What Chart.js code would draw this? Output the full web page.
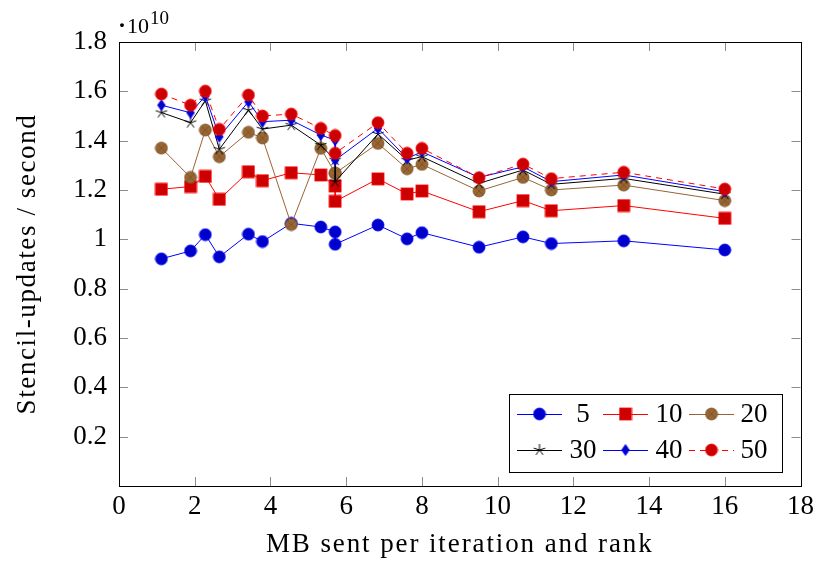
<!DOCTYPE html>
<html>
<head>
<meta charset="utf-8">
<script src="https://cdn.jsdelivr.net/npm/chart.js@4"></script>
<style>
  html, body { margin: 0; padding: 0; background: #fff; }
  #wrap { width: 819px; height: 562px; }
</style>
</head>
<body>
<div id="wrap"><canvas id="myChart" width="819" height="562"></canvas></div>
<script>
// MB sent per iteration and rank (two runs share 5.71)
const mbSent = [1.12, 1.89, 2.28, 2.65, 3.42, 3.79, 4.55, 5.33, 5.71, 5.71, 6.84, 7.61, 8.0, 9.51, 10.67, 11.42, 13.33, 16.0];
// stencil updates / second, in units of 10^10
const upd5  = [0.921, 0.953, 1.019, 0.929, 1.021, 0.991, 1.065, 1.050, 1.030, 0.980, 1.058, 1.002, 1.027, 0.968, 1.010, 0.983, 0.994, 0.957];
const upd10 = [1.203, 1.214, 1.255, 1.162, 1.274, 1.238, 1.270, 1.261, 1.216, 1.154, 1.245, 1.184, 1.196, 1.112, 1.157, 1.116, 1.137, 1.085];
const upd20 = [1.370, 1.251, 1.443, 1.335, 1.434, 1.411, 1.060, 1.369, 1.268, 1.268, 1.389, 1.286, 1.304, 1.196, 1.251, 1.200, 1.220, 1.157];
const upd30 = [1.514, 1.473, 1.562, 1.365, 1.524, 1.447, 1.463, 1.382, 1.321, 1.234, 1.427, 1.321, 1.335, 1.227, 1.281, 1.223, 1.247, 1.183];
const upd40 = [1.544, 1.513, 1.581, 1.416, 1.558, 1.477, 1.483, 1.423, 1.402, 1.321, 1.450, 1.328, 1.355, 1.251, 1.294, 1.234, 1.261, 1.193];
const upd50 = [1.589, 1.544, 1.601, 1.446, 1.585, 1.500, 1.508, 1.450, 1.421, 1.349, 1.473, 1.349, 1.369, 1.250, 1.305, 1.246, 1.272, 1.204];
const seriesNames = ['5', '10', '20', '30', '40', '50'];
const xTicks = [0, 2, 4, 6, 8, 10, 12, 14, 16, 18];
const yTicks = [0, 0.2, 0.4, 0.6, 0.8, 1, 1.2, 1.4, 1.6, 1.8];
const xTitle = 'MB sent per iteration and rank';
const yTitle = 'Stencil-updates / second';

const FONT = '"Liberation Serif", "DejaVu Serif", serif';

// marker images, pgfplots-like
function mark(w, h, draw) {
    const c = document.createElement('canvas');
    c.width = w; c.height = h;
    const ctx = c.getContext('2d');
    ctx.translate(w / 2, h / 2);
    draw(ctx);
    return c;
}
const circleMark = (fill, stroke) => mark(14, 14, ctx => {
    ctx.beginPath(); ctx.arc(0, 0, 6, 0, Math.PI * 2);
    ctx.fillStyle = fill; ctx.fill();
    ctx.strokeStyle = stroke; ctx.lineWidth = 0.8; ctx.stroke();
});
const squareMark = mark(14, 14, ctx => {
    ctx.fillStyle = 'rgb(204,0,0)'; ctx.fillRect(-6, -6, 12, 12);
    ctx.strokeStyle = 'rgb(255,0,0)'; ctx.lineWidth = 0.8; ctx.strokeRect(-6, -6, 12, 12);
});
const otimesMark = mark(14, 14, ctx => {
    ctx.beginPath(); ctx.arc(0, 0, 6, 0, Math.PI * 2);
    ctx.fillStyle = 'rgb(153,102,51)'; ctx.fill();
    ctx.strokeStyle = 'rgb(120,80,40)'; ctx.lineWidth = 0.8; ctx.stroke();
    const d = 6 * Math.SQRT1_2;
    ctx.beginPath();
    ctx.moveTo(-d, -d); ctx.lineTo(d, d);
    ctx.moveTo(-d, d); ctx.lineTo(d, -d);
    ctx.stroke();
});
const starMark = mark(16, 16, ctx => {
    ctx.strokeStyle = '#000'; ctx.lineWidth = 1;
    ctx.beginPath();
    for (let k = 0; k < 5; k++) {
        const a = -Math.PI / 2 + k * 2 * Math.PI / 5;
        ctx.moveTo(0, 0); ctx.lineTo(6 * Math.cos(a), 6 * Math.sin(a));
    }
    ctx.stroke();
});
const diamondMark = mark(10, 14, ctx => {
    ctx.beginPath();
    ctx.moveTo(0, -5.5); ctx.lineTo(3.8, 0); ctx.lineTo(0, 5.5); ctx.lineTo(-3.8, 0); ctx.closePath();
    ctx.fillStyle = 'rgb(0,0,204)'; ctx.fill();
    ctx.strokeStyle = 'rgb(0,0,255)'; ctx.lineWidth = 0.8; ctx.stroke();
});

function pts(ys) {
    return mbSent.map((x, i) => ({ x: x, y: ys[i] }));
}

const datasets = [
    { data: pts(upd5),  borderColor: 'rgb(0,0,255)',    pointStyle: circleMark('rgb(0,0,204)', 'rgb(0,0,255)') },
    { data: pts(upd10), borderColor: 'rgb(255,0,0)',    pointStyle: squareMark },
    { data: pts(upd20), borderColor: 'rgb(150,100,55)', pointStyle: otimesMark },
    { data: pts(upd30), borderColor: 'rgb(0,0,0)',      pointStyle: starMark },
    { data: pts(upd40), borderColor: 'rgb(0,0,255)',    pointStyle: diamondMark },
    { data: pts(upd50), borderColor: 'rgb(255,0,0)',    pointStyle: circleMark('rgb(204,0,0)', 'rgb(255,0,0)'), borderDash: [6, 5] }
].map((d, i) => Object.assign({
    label: seriesNames[i],
    borderWidth: 1,
    pointRadius: 6,
    fill: false,
    tension: 0,
    order: 6 - i
}, d));

// inward ticks on all four sides, frame, axis titles, 10^10 factor and legend
const pgfDecor = {
    id: 'pgfDecor',
    afterDraw(chart) {
        const ctx = chart.ctx;
        const a = chart.chartArea;
        const xs = chart.scales.x, ys = chart.scales.y;
        ctx.save();
        ctx.strokeStyle = '#8c8c8c';
        ctx.lineWidth = 1;
        ctx.beginPath();
        xTicks.forEach(v => {
            const px = Math.round(xs.getPixelForValue(v)) + 0.5;
            ctx.moveTo(px, a.bottom); ctx.lineTo(px, a.bottom - 9);
            ctx.moveTo(px, a.top); ctx.lineTo(px, a.top + 9);
        });
        yTicks.slice(1).forEach(v => {
            const py = Math.round(ys.getPixelForValue(v)) + 0.5;
            ctx.moveTo(a.left, py); ctx.lineTo(a.left + 9, py);
            ctx.moveTo(a.right, py); ctx.lineTo(a.right - 9, py);
        });
        ctx.stroke();

        ctx.strokeStyle = '#000';
        ctx.strokeRect(Math.round(a.left) + 0.5, Math.round(a.top) + 0.5,
            Math.round(a.right - a.left), Math.round(a.bottom - a.top));

        // axis titles (a bit of letter spacing to get the wide TeX look)
        ctx.fillStyle = '#000';
        ctx.font = '27px ' + FONT;
        ctx.textAlign = 'center';
        ctx.textBaseline = 'middle';
        ctx.letterSpacing = '1.9px';
        ctx.fillText(xTitle, (a.left + a.right) / 2, 545);
        ctx.letterSpacing = '1.6px';
        ctx.save();
        ctx.translate(28, (a.top + a.bottom) / 2);
        ctx.rotate(-Math.PI / 2);
        ctx.fillText(yTitle, 0, 0);
        ctx.restore();
        ctx.letterSpacing = '0px';

        // scale factor
        ctx.textBaseline = 'alphabetic';
        ctx.textAlign = 'left';
        ctx.font = 'bold 24px ' + FONT;
        ctx.fillText('\u00b7', 118, 33);
        ctx.font = '22px ' + FONT;
        ctx.fillText('10', 127, 33);
        ctx.font = '19px ' + FONT;
        ctx.fillText('10', 150, 24);

        // legend, 3 columns x 2 rows
        const bx = 509.5, by = 394.5, bw = 273, bh = 78;
        ctx.fillStyle = '#fff';
        ctx.fillRect(bx, by, bw, bh);
        ctx.strokeStyle = '#000';
        ctx.strokeRect(bx, by, bw, bh);
        const colX = [517, 603, 689];
        const labX = [583, 669, 754];
        const rowY = [414, 450];
        chart.data.datasets.forEach((ds, i) => {
            const c = i % 3, r = Math.floor(i / 3);
            const x0 = colX[c], y = rowY[r];
            ctx.save();
            ctx.strokeStyle = ds.borderColor;
            ctx.lineWidth = 1;
            ctx.setLineDash(ds.borderDash || []);
            ctx.beginPath();
            ctx.moveTo(x0, y + 0.5); ctx.lineTo(x0 + 45, y + 0.5);
            ctx.stroke();
            ctx.restore();
            const m = ds.pointStyle;
            ctx.drawImage(m, x0 + 22.5 - m.width / 2, y - m.height / 2);
            ctx.fillStyle = '#000';
            ctx.font = '27px ' + FONT;
            ctx.textAlign = 'center';
            ctx.textBaseline = 'middle';
            ctx.fillText(ds.label, labX[c], y + 1);
        });
        ctx.restore();
    }
};

new Chart(document.getElementById('myChart'), {
    type: 'line',
    data: { datasets: datasets },
    options: {
        responsive: false,
        animation: false,
        events: [],
        layout: { padding: { top: 42, right: 15, left: 0, bottom: 0 } },
        plugins: { legend: { display: false }, tooltip: { enabled: false } },
        scales: {
            x: {
                type: 'linear',
                min: 0,
                max: 18,
                afterFit: s => { s.height = 76; },
                afterBuildTicks: s => { s.ticks = xTicks.map(v => ({ value: v })); },
                grid: { display: false, drawTicks: false },
                border: { display: false },
                ticks: { color: '#000', padding: 5, font: { family: FONT, size: 27 } }
            },
            y: {
                min: 0,
                max: 1.8,
                afterFit: s => { s.width = 119; },
                afterBuildTicks: s => { s.ticks = yTicks.map(v => ({ value: v })); },
                grid: { display: false, drawTicks: false },
                border: { display: false },
                ticks: {
                    color: '#000',
                    padding: 12,
                    font: { family: FONT, size: 27 },
                    callback: v => v === 0 ? '' : String(Math.round(v * 10) / 10)
                }
            }
        }
    },
    plugins: [pgfDecor]
});
</script>
</body>
</html>
